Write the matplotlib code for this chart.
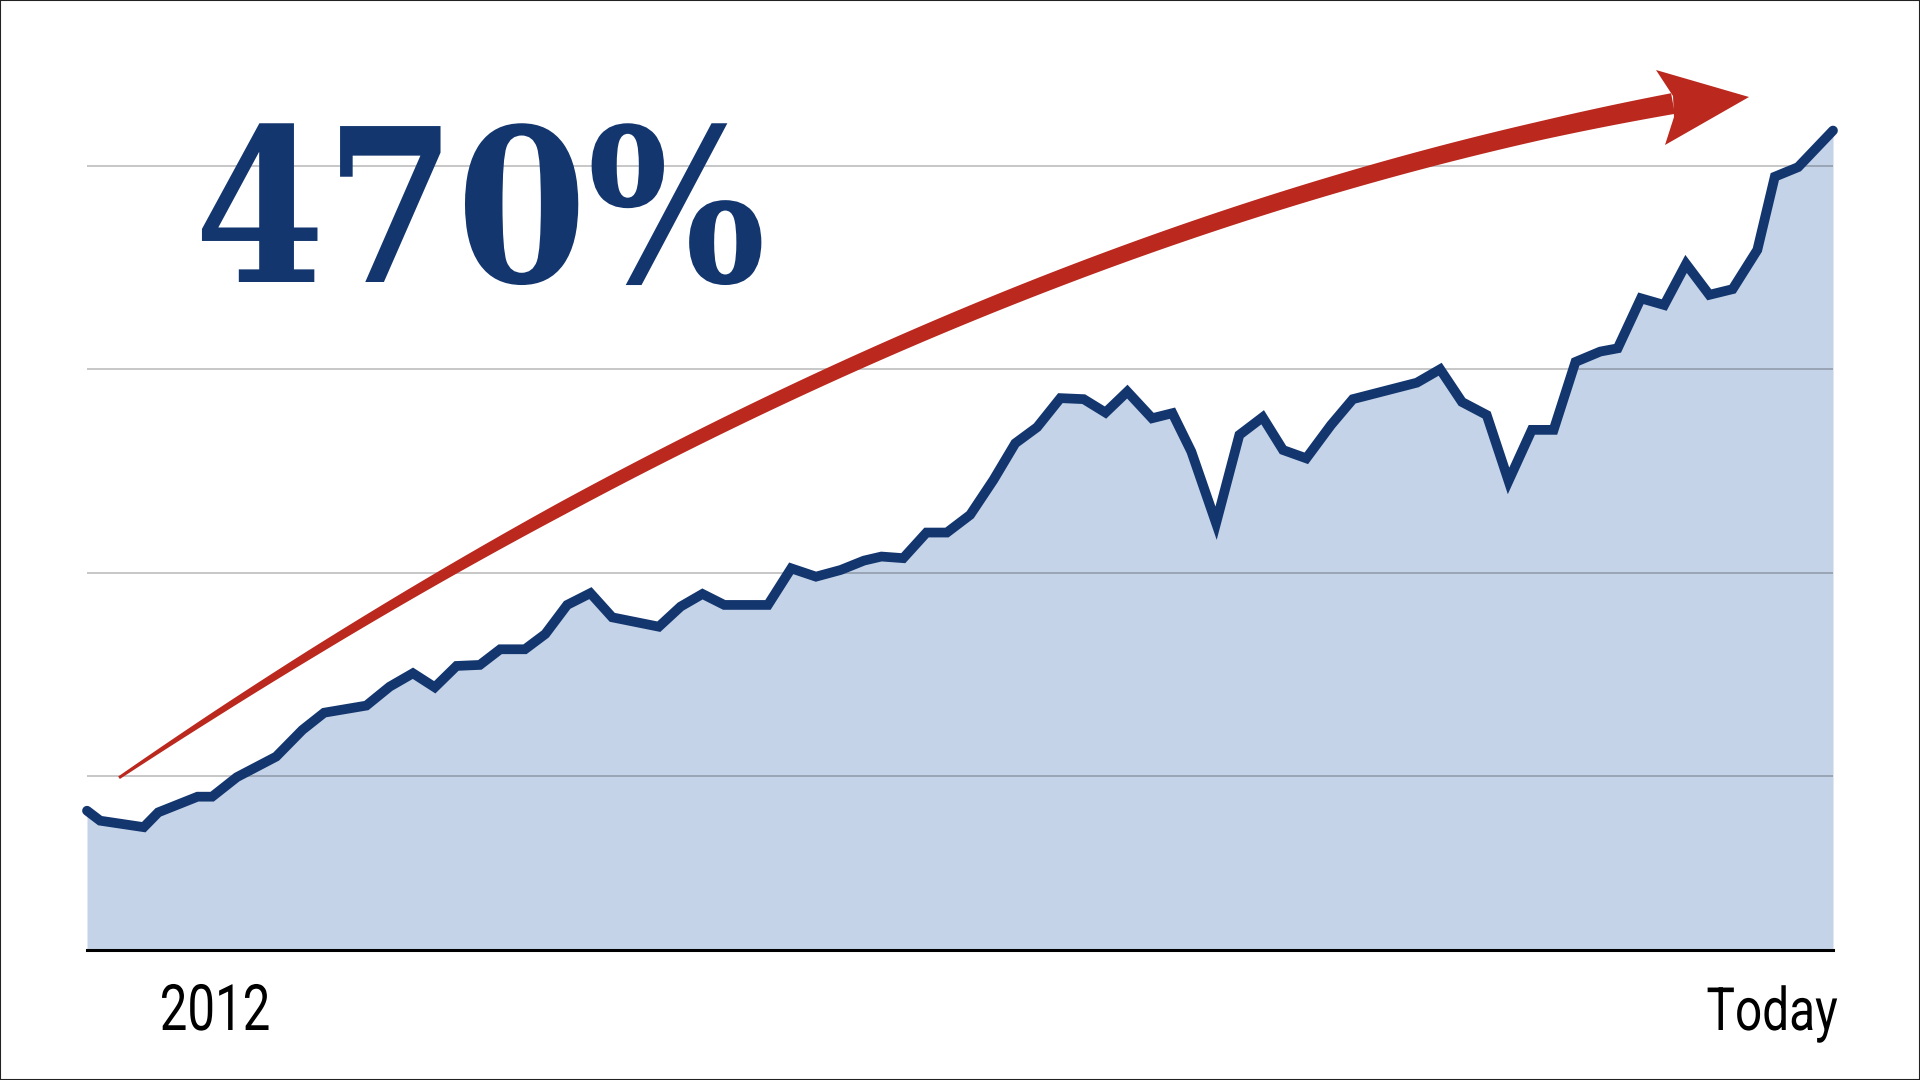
import numpy as np
import matplotlib
matplotlib.use('Agg')
import matplotlib.pyplot as plt
from matplotlib.patches import Polygon, Rectangle
from matplotlib.patheffects import AbstractPathEffect
from matplotlib.transforms import Affine2D

# growth index (x in years, y in index points)
years = [2012.00, 2012.09, 2012.39, 2012.49, 2012.76, 2012.86, 2013.03, 2013.30,
         2013.48, 2013.63, 2013.92, 2014.08, 2014.24, 2014.39, 2014.54, 2014.70,
         2014.84, 2015.01, 2015.15, 2015.30, 2015.46, 2015.61, 2015.93, 2016.08,
         2016.23, 2016.38, 2016.68, 2016.84, 2017.01, 2017.18, 2017.34, 2017.46,
         2017.61, 2017.77, 2017.91, 2018.07, 2018.23, 2018.38, 2018.53, 2018.69,
         2018.85, 2019.00, 2019.15, 2019.32, 2019.46, 2019.59, 2019.76, 2019.92,
         2020.08, 2020.22, 2020.38, 2020.55, 2020.70, 2021.14, 2021.30, 2021.45,
         2021.62, 2021.77, 2021.93, 2022.08, 2022.23, 2022.40, 2022.52, 2022.68,
         2022.84, 2022.99, 2023.15, 2023.31, 2023.48, 2023.60, 2023.76, 2024.00]
values = [82.9, 78.0, 74.8, 82.1, 89.8, 89.8, 99.4, 109.5,
          122.6, 131.1, 134.6, 143.9, 150.5, 143.6, 154.1, 154.6,
          162.3, 162.3, 169.8, 184.1, 189.9, 178.0, 173.4, 183.3,
          189.5, 184.1, 184.1, 202.1, 198.0, 201.3, 205.9, 207.9,
          207.1, 219.7, 219.7, 228.4, 245.6, 263.6, 271.5, 285.8,
          285.3, 278.7, 289.0, 275.9, 278.4, 259.5, 224.3, 267.7,
          276.4, 260.3, 256.2, 272.6, 285.3, 293.4, 300.0, 283.9,
          277.5, 245.1, 270.2, 270.2, 303.6, 308.7, 310.3, 334.9,
          331.6, 351.8, 336.6, 339.4, 358.7, 394.7, 399.4, 417.4]

grid_values = [100, 200, 300, 400]
Y_MIN, Y_MAX = 14.4, 481.6
X_MIN, X_MAX = 2012, 2024

headline = '470%'
start_label = '2012'
end_label = 'Today'

NAVY = '#13366F'
FILL = '#C5D3E8'
RED = '#BA281E'

W, H = 1920, 1080

# red trend arrow, guide points in pixels (x, y from top) and shaft width
ARROW_X = [119, 313, 463, 560, 800, 960, 1040, 1205, 1300, 1400, 1533, 1633, 1673]
ARROW_Y = [780, 647, 565, 512, 388, 318, 286, 227, 195, 163, 133, 109, 106]
WIDTH_X = [119, 213, 313, 560, 1040, 1540, 1675]
WIDTH_W = [3, 6, 8.5, 13, 16, 18.5, 21]
HEAD = [(1656, 70), (1749, 97), (1665, 145), (1674, 117), (1673, 96)]


class Squeeze(AbstractPathEffect):
    """squash text horizontally around cx (display px)"""
    def __init__(self, sx, cx):
        super().__init__()
        self.sx = sx
        self.cx = cx

    def draw_path(self, renderer, gc, tpath, affine, rgbFace=None):
        sq = Affine2D().translate(-self.cx, 0).scale(self.sx, 1).translate(self.cx, 0)
        renderer.draw_path(gc, tpath, affine + sq, rgbFace)


def to_fig(x, y):
    return np.column_stack([np.asarray(x) / W, 1 - np.asarray(y) / H])


fig = plt.figure(figsize=(W / 100, H / 100), dpi=100)
fig.patch.set_facecolor('white')

ax = fig.add_axes([87 / W, 130 / H, 1746 / W, 950 / H])
ax.set_xlim(X_MIN, X_MAX)
ax.set_ylim(Y_MIN, Y_MAX)
ax.set_facecolor('none')

ax.fill_between(years, values, Y_MIN, color=FILL, lw=0, zorder=1)
ax.plot(years, values, color=NAVY, lw=7, solid_joinstyle='miter',
        solid_capstyle='round', clip_on=False, zorder=4)

ax.set_yticks(grid_values)
ax.set_xticks([])
ax.set_axisbelow(False)
ax.yaxis.grid(True, color='black', alpha=0.28, lw=1.1)
ax.tick_params(axis='y', length=0, labelleft=False)
for side in ['left', 'right', 'top']:
    ax.spines[side].set_visible(False)
ax.spines['bottom'].set_color('black')
ax.spines['bottom'].set_linewidth(2.2)
ax.spines['bottom'].set_zorder(5)

# arrow shaft: tapered band along a smooth curve
coef = np.polyfit(ARROW_X, ARROW_Y, 3)
xs = np.linspace(ARROW_X[0], ARROW_X[-1], 300)
ys = np.polyval(coef, xs)
dx = np.gradient(xs)
dy = np.gradient(ys)
norm = np.hypot(dx, dy)
nx, ny = -dy / norm, dx / norm
half = np.interp(xs, WIDTH_X, WIDTH_W) / 2
upper = to_fig(xs + nx * half, ys + ny * half)
lower = to_fig(xs - nx * half, ys - ny * half)
shaft = np.vstack([upper, lower[::-1]])
fig.patches.append(Polygon(shaft, closed=True, fc=RED, ec='none',
                           transform=fig.transFigure, figure=fig, zorder=5))
hx, hy = zip(*HEAD)
fig.patches.append(Polygon(to_fig(hx, hy), closed=True, fc=RED, ec='none',
                           transform=fig.transFigure, figure=fig, zorder=5))

fig.text(480 / W, 1 - 282 / H, headline, ha='center', va='baseline',
         fontsize=154, fontfamily='DejaVu Serif', fontweight='bold', color=NAVY,
         path_effects=[Squeeze(0.88, 480)])
fig.text(215 / W, 1 - 1030 / H, start_label, ha='center', va='baseline',
         fontsize=46, fontfamily='Roboto', color='black',
         path_effects=[Squeeze(0.77, 215)])
fig.text(1772 / W, 1 - 1030 / H, end_label, ha='center', va='baseline',
         fontsize=43, fontfamily='Roboto', color='black',
         path_effects=[Squeeze(0.80, 1772)])

fig.patches.append(Rectangle((0, 0), 1, 1, fill=False, ec='#222222', lw=1.5,
                             transform=fig.transFigure, figure=fig, zorder=10))

fig.savefig('out.png', dpi=100)
